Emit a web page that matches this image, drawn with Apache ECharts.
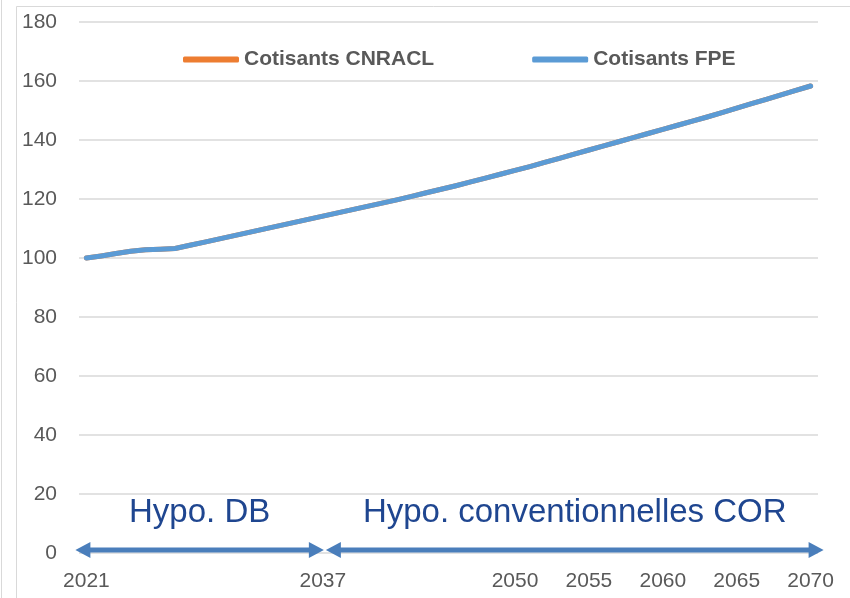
<!DOCTYPE html>
<html>
<head>
<meta charset="utf-8">
<script src="https://cdn.jsdelivr.net/npm/echarts@6/dist/echarts.min.js"></script>
<style>
  html, body { margin: 0; padding: 0; background: #fff; }
  #chart { width: 850px; height: 598px; }
</style>
</head>
<body>
<div id="chart"></div>
<script>
// years on the x axis
const years = [];
for (let y = 2021; y <= 2070; y++) years.push(String(y));
const shownYears = ['2021', '2037', '2050', '2055', '2060', '2065', '2070'];

// indices, base 100 in 2021
const cotisantsFPE = [
  100.0, 100.7, 101.5, 102.3, 102.8, 103.0, 103.2, 104.3, 105.4, 106.5,
  107.6, 108.7, 109.8, 110.9, 112.0, 113.1, 114.2, 115.3, 116.4, 117.5,
  118.6, 119.7, 120.9, 122.1, 123.3, 124.5, 125.8, 127.1, 128.4, 129.7,
  131.0, 132.4, 133.8, 135.2, 136.6, 138.0, 139.4, 140.8, 142.2, 143.6,
  145.0, 146.4, 147.8, 149.3, 150.8, 152.3, 153.8, 155.3, 156.8, 158.3
];
// hidden under the FPE line in the picture
const cotisantsCNRACL = [
  100.0, 100.7, 101.5, 102.3, 102.8, 103.0, 103.2, 104.3, 105.4, 106.5,
  107.6, 108.7, 109.8, 110.9, 112.0, 113.1, 114.2, 115.3, 116.4, 117.5,
  118.6, 119.7, 120.9, 122.1, 123.3, 124.5, 125.8, 127.1, 128.4, 129.7,
  131.0, 132.4, 133.8, 135.2, 136.6, 138.0, 139.4, 140.8, 142.2, 143.6,
  145.0, 146.4, 147.8, 149.3, 150.8, 152.3, 153.8, 155.3, 156.8, 158.3
];

// period annotations
const periods = [
  { label: 'Hypo. DB', from: '2021', to: '2037' },
  { label: 'Hypo. conventionnelles COR', from: '2037', to: '2070' }
];

const font = 'Liberation Sans, Arial, sans-serif';
const chart = echarts.init(document.getElementById('chart'));

chart.setOption({
  backgroundColor: '#fff',
  animation: false,
  grid: { left: 79, right: 32, top: 22, bottom: 45 },
  legend: {
    left: 183,
    top: 49,
    padding: 0,
    icon: 'roundRect',
    itemWidth: 56,
    itemHeight: 6,
    itemGap: 98,
    textStyle: { fontFamily: font, fontSize: 21, fontWeight: 'bold', color: '#595959' },
    data: ['Cotisants CNRACL', 'Cotisants FPE']
  },
  xAxis: {
    type: 'category',
    data: years,
    boundaryGap: true,
    axisLine: { show: false },
    axisTick: { show: false },
    axisLabel: {
      interval: (i, v) => shownYears.includes(v),
      margin: 18,
      fontFamily: font,
      fontSize: 21,
      color: '#595959'
    }
  },
  yAxis: {
    type: 'value',
    min: 0,
    max: 180,
    interval: 20,
    axisLine: { show: false },
    axisTick: { show: false },
    axisLabel: { margin: 22, fontFamily: font, fontSize: 21, color: '#595959' },
    splitLine: { lineStyle: { color: '#d9d9d9', width: 1.5 } }
  },
  series: [
    {
      name: 'Cotisants CNRACL',
      type: 'line',
      data: cotisantsCNRACL,
      showSymbol: false,
      color: '#ED7D31',
      lineStyle: { width: 5, cap: 'round', join: 'round' }
    },
    {
      name: 'Cotisants FPE',
      type: 'line',
      data: cotisantsFPE,
      showSymbol: false,
      color: '#5B9BD5',
      lineStyle: { width: 5, cap: 'round', join: 'round' }
    }
  ]
});

// arrows and labels placed through the axes
const px = (year) => chart.convertToPixel({ xAxisIndex: 0 }, year);
const py = (val) => chart.convertToPixel({ yAxisIndex: 0 }, val);

function arrow(x1, x2, y) {
  const h = 15, w = 8, s = 2.5;
  return [
    [x1, y], [x1 + h, y - w], [x1 + h, y - s], [x2 - h, y - s], [x2 - h, y - w],
    [x2, y], [x2 - h, y + w], [x2 - h, y + s], [x1 + h, y + s], [x1 + h, y + w]
  ];
}

const arrowY = py(1);
const spans = [
  [px(periods[0].from) - 11, px(periods[0].to) + 1],
  [px(periods[1].from) + 3, px(periods[1].to) + 13]
];

const graphic = [
  { type: 'rect', shape: { x: 16.5, y: 6.5, width: 840, height: 600 },
    style: { fill: 'none', stroke: '#d9d9d9', lineWidth: 1 }, silent: true },
  { type: 'line', shape: { x1: 1.5, y1: 0, x2: 1.5, y2: 598 },
    style: { stroke: '#d9d9d9', lineWidth: 1 }, silent: true }
];
periods.forEach((p, i) => {
  const [a, b] = spans[i];
  graphic.push({
    type: 'polygon',
    shape: { points: arrow(a, b, arrowY) },
    style: { fill: '#4A7EBB' },
    z: 10
  });
  graphic.push({
    type: 'text',
    x: (a + b) / 2,
    y: py(13.5),
    style: {
      text: p.label,
      fontFamily: font,
      fontSize: 33,
      fill: '#1F4690',
      align: 'center',
      verticalAlign: 'middle'
    },
    z: 10
  });
});
chart.setOption({ graphic: graphic });
</script>
</body>
</html>
